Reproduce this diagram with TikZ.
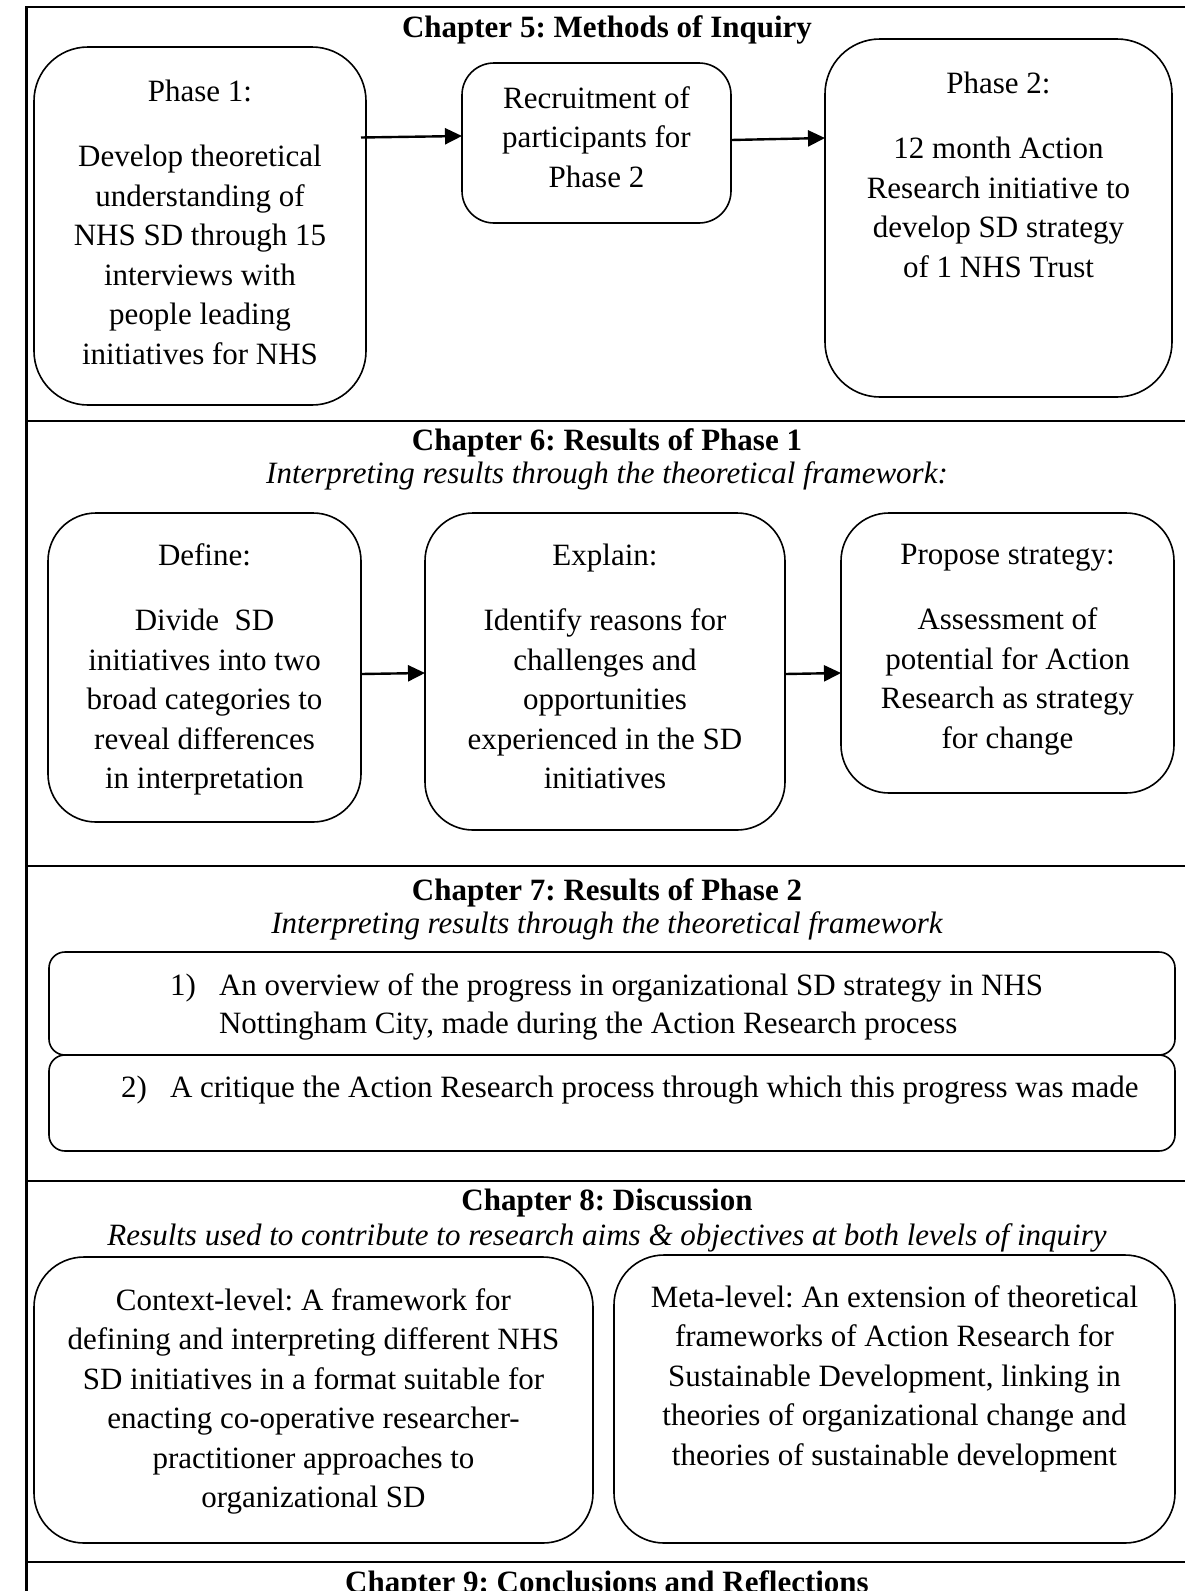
\documentclass[tikz,border=0pt]{standalone}
\usepackage{fontspec}
\setmainfont{Liberation Serif}
\usetikzlibrary{arrows.meta}
% zero-width rule fixing the height of the first line of a text block
\newcommand\mytopstrut{\rule{0pt}{22pt}}
\frenchspacing
\begin{document}
\begin{tikzpicture}[x=1pt,y=-1pt,
  every node/.style={inner sep=0pt, outer sep=0pt, font=\fontsize{31}{39.5}\selectfont},
  box/.style={draw, line width=1.6pt, rounded corners=#1},
  box/.default=50pt,
  txt/.style={anchor=north, align=center},
  ttl/.style={anchor=base, font=\fontsize{31}{39.5}\selectfont\bfseries},
  sub/.style={anchor=base, font=\fontsize{31}{39.5}\selectfont\itshape},
  frameline/.style={line width=2.4pt},
  arr/.style={line width=2.4pt, -{Triangle[length=17pt,width=16pt]}}
]
\useasboundingbox (0,0) rectangle (1185,1591);
\fill[white] (0,0) rectangle (1185,1591);
\clip (0,0) rectangle (1185,1591);

% ---- outer frame and section rules
\draw[frameline] (26.5,1600) -- (26.5,7) -- (1195,7);
\draw[frameline] (26.5,421) -- (1195,421);
\draw[frameline] (26.5,866) -- (1195,866);
\draw[frameline] (26.5,1181) -- (1195,1181);
\draw[frameline] (26.5,1562) -- (1195,1562);

% ---- Chapter 5
\node[ttl] (t5) at (607,37) {Chapter 5: Methods of Inquiry};
\node[box=54pt, minimum width=332pt, minimum height=358pt] (p1) at (200,226) {};
\node[box=32pt, minimum width=269pt, minimum height=160pt] (rec) at (596.5,143) {};
\node[box=55pt, minimum width=347pt, minimum height=358pt] (p2) at (998.5,218) {};
\node[txt] (p1t) at (200,79) {\mytopstrut Phase 1:\\[26pt] Develop theoretical\\ understanding of\\ NHS SD through 15\\ interviews with\\ people leading\\ initiatives for NHS};
\node[txt] (rect) at (596.5,86) {\mytopstrut Recruitment of\\ participants for\\ Phase 2};
\node[txt] (p2t) at (998.5,71) {\mytopstrut Phase 2:\\[26pt] 12 month Action\\ Research initiative to\\ develop SD strategy\\ of 1 NHS Trust};
\draw[arr] ([xshift=-5pt,yshift=88.5pt]p1.east) -- ([yshift=7pt]rec.west);
\draw[arr] ([yshift=3pt]rec.east) -- ([yshift=80pt]p2.west);

% ---- Chapter 6
\node[ttl] (t6) at (607,450) {Chapter 6: Results of Phase 1};
\node[sub] (s6) at (607,483) {Interpreting results through the theoretical framework:};
\node[box=48pt, minimum width=313pt, minimum height=309pt] (def) at (204.5,667.5) {};
\node[box=48pt, minimum width=360pt, minimum height=317pt] (exp) at (605,671.5) {};
\node[box=48pt, minimum width=333pt, minimum height=280pt] (prop) at (1007.5,653) {};
\node[txt] (deft) at (204.5,543) {\mytopstrut Define:\\[26pt] Divide\ \ SD\\ initiatives into two\\ broad categories to\\ reveal differences\\ in interpretation};
\node[txt] (expt) at (605,543) {\mytopstrut Explain:\\[26pt] Identify reasons for\\ challenges and\\ opportunities\\ experienced in the SD\\ initiatives};
\node[txt] (propt) at (1007.5,542) {\mytopstrut Propose strategy:\\[26pt] Assessment of\\ potential for Action\\ Research as strategy\\ for change};
\draw[arr] ([yshift=-6.5pt]def.east) -- ([yshift=-1.5pt]exp.west);
\draw[arr] ([yshift=-2.5pt]exp.east) -- ([yshift=-20pt]prop.west);

% ---- Chapter 7
\node[ttl] (t7) at (607,900) {Chapter 7: Results of Phase 2};
\node[sub] (s7) at (607,933) {Interpreting results through the theoretical framework};
\node[box=16pt, minimum width=1126pt, minimum height=103pt] (r1) at (612,1003.5) {};
\node[box=16pt, minimum width=1126pt, minimum height=96pt] (r2) at (612,1103) {};
\node[anchor=base west] (n1) at (170,995) {1)};
\node[anchor=north west, align=left, font=\fontsize{31}{38}\selectfont] (l1) at (219,973) {\mytopstrut An overview of the progress in organizational SD strategy in NHS\\ Nottingham City, made during the Action Research process};
\node[anchor=base west] (n2) at (121,1097) {2)};
\node[anchor=base west] (l2) at (170,1097) {A critique the Action Research process through which this progress was made};

% ---- Chapter 8
\node[ttl] (t8) at (607,1210) {Chapter 8: Discussion};
\node[sub] (s8) at (607,1245) {Results used to contribute to research aims \& objectives at both levels of inquiry};
\node[box=50pt, minimum width=559pt, minimum height=286pt] (ctx) at (313.5,1400) {};
\node[box=50pt, minimum width=561pt, minimum height=288pt] (meta) at (894.5,1399) {};
\node[txt] (ctxt) at (313.5,1288) {\mytopstrut Context-level: A framework for\\ defining and interpreting different NHS\\ SD initiatives in a format suitable for\\ enacting co-operative researcher-\\ practitioner approaches to\\ organizational SD};
\node[txt] (metat) at (894.5,1285) {\mytopstrut Meta-level: An extension of theoretical\\ frameworks of Action Research for\\ Sustainable Development, linking in\\ theories of organizational change and\\ theories of sustainable development};

% ---- Chapter 9
\node[ttl] (t9) at (607,1592) {Chapter 9: Conclusions and Reflections};
\end{tikzpicture}
\end{document}
